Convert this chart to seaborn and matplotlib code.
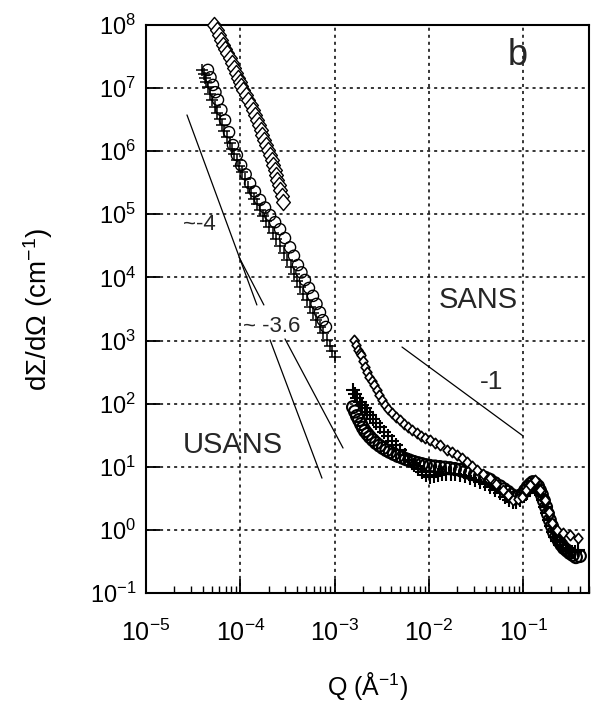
import matplotlib
matplotlib.use("Agg")
import matplotlib.pyplot as plt
from matplotlib import font_manager
from matplotlib.path import Path
from matplotlib.ticker import LogLocator, LogFormatterSciNotation, NullFormatter, NullLocator
import seaborn as sns

# ---------------- data ----------------
# USANS, sample drawn with diamonds
q_usans_dia = [5.26e-5, 5.6e-5, 5.94e-5, 6.25e-5, 6.56e-5, 6.9e-5, 7.23e-5, 7.7e-5,
               8.17e-5, 8.6e-5, 9.0e-5, 9.45e-5, 9.93e-5, 1.03e-4, 1.07e-4, 1.14e-4,
               1.21e-4, 1.29e-4, 1.37e-4, 1.43e-4, 1.50e-4, 1.58e-4, 1.66e-4, 1.72e-4,
               1.78e-4, 1.87e-4, 1.97e-4, 2.07e-4, 2.17e-4, 2.25e-4, 2.33e-4, 2.39e-4,
               2.45e-4, 2.55e-4, 2.64e-4, 2.74e-4, 2.84e-4]
i_usans_dia = [1.0e8, 8.4e7, 6.95e7, 5.8e7, 4.8e7, 4.2e7, 3.6e7, 3.0e7,
               2.5e7, 2.1e7, 1.73e7, 1.47e7, 1.25e7, 1.08e7, 9.3e6, 7.8e6,
               6.5e6, 5.4e6, 4.5e6, 3.7e6, 3.1e6, 2.6e6, 2.17e6, 1.8e6,
               1.5e6, 1.25e6, 1.04e6, 8.7e5, 7.3e5, 6.0e5, 5.0e5, 4.2e5,
               3.5e5, 2.9e5, 2.43e5, 1.95e5, 1.57e5]

# USANS, sample drawn with crosses
q_usans_plus = [3.93e-5, 4.08e-5, 4.23e-5, 4.38e-5, 4.54e-5, 4.77e-5, 5.01e-5, 5.33e-5,
                5.66e-5, 6.02e-5, 6.40e-5, 6.80e-5, 7.23e-5, 7.69e-5, 8.17e-5, 8.68e-5,
                9.23e-5, 9.8e-5, 1.04e-4, 1.12e-4, 1.21e-4, 1.30e-4, 1.40e-4, 1.51e-4,
                1.62e-4, 1.74e-4, 1.87e-4, 2.04e-4, 2.22e-4, 2.42e-4, 2.64e-4, 2.88e-4,
                3.13e-4, 3.41e-4, 3.71e-4, 4.0e-4, 4.30e-4, 4.68e-4, 5.10e-4, 5.49e-4,
                5.90e-4, 6.43e-4, 7.0e-4, 7.6e-4, 8.29e-4, 8.93e-4, 9.5e-4, 1.01e-3]
i_usans_plus = [1.94e7, 1.68e7, 1.45e7, 1.23e7, 1.04e7, 8.2e6, 6.5e6, 5.1e6,
                4.0e6, 3.2e6, 2.6e6, 2.1e6, 1.68e6, 1.35e6, 1.08e6, 8.9e5,
                7.3e5, 5.9e5, 4.7e5, 3.6e5, 2.7e5, 2.2e5, 1.75e5, 1.43e5,
                1.17e5, 9.5e4, 7.8e4, 6.3e4, 5.1e4, 4.0e4, 3.15e4, 2.45e4,
                1.89e4, 1.46e4, 1.13e4, 8.9e3, 7.0e3, 5.5e3, 4.4e3, 3.4e3,
                2.7e3, 2.1e3, 1.64e3, 1.3e3, 1.02e3, 8.19e2, 6.9e2, 5.47e2]

# USANS, sample drawn with circles
q_usans_circ = [4.54e-5, 4.83e-5, 5.13e-5, 5.45e-5, 5.80e-5, 6.3e-5, 6.89e-5, 7.6e-5,
                8.37e-5, 9.2e-5, 1.02e-4, 1.14e-4, 1.27e-4, 1.43e-4, 1.62e-4, 1.83e-4,
                2.07e-4, 2.34e-4, 2.64e-4, 2.98e-4, 3.37e-4, 3.71e-4, 4.09e-4, 4.45e-4,
                4.85e-4, 5.35e-4, 5.90e-4, 6.43e-4, 7.0e-4, 7.5e-4, 8.1e-4]
i_usans_circ = [1.94e7, 1.48e7, 1.12e7, 8.6e6, 6.5e6, 4.5e6, 3.1e6, 2.0e6,
                1.25e6, 8.7e5, 6.0e5, 4.3e5, 3.1e5, 2.3e5, 1.69e5, 1.28e5,
                9.7e4, 7.5e4, 5.8e4, 4.2e4, 3.0e4, 2.2e4, 1.57e4, 1.2e4,
                9.1e3, 6.8e3, 5.1e3, 3.8e3, 2.8e3, 2.1e3, 1.64e3]

# SANS, diamonds
q_sans_dia = [1.61e-3, 1.69e-3, 1.77e-3, 1.84e-3, 1.91e-3, 2.0e-3, 2.10e-3, 2.21e-3,
              2.32e-3, 2.47e-3, 2.62e-3, 2.79e-3, 2.96e-3, 3.18e-3, 3.42e-3, 3.72e-3,
              4.06e-3, 4.48e-3, 4.94e-3, 5.44e-3, 6.0e-3, 6.62e-3, 7.48e-3, 8.24e-3,
              9.1e-3, 1.03e-2, 1.16e-2, 1.31e-2, 1.56e-2, 1.76e-2, 1.99e-2, 2.24e-2,
              2.54e-2, 2.86e-2, 3.24e-2, 3.75e-2, 4.45e-2, 5.15e-2, 6.1e-2, 6.9e-2,
              7.8e-2, 8.8e-2, 9.7e-2, 0.107, 0.118, 0.133, 0.151, 0.170, 0.188,
              0.202, 0.228, 0.264, 0.313, 0.381]
i_sans_dia = [1.02e3, 840, 706, 640, 590, 470, 380, 318,
              264, 228, 197, 162, 137, 113, 95, 82,
              71, 62, 55, 47.5, 42.5, 38.2, 34.2, 30.7,
              28.5, 26.5, 23.8, 22.1, 18.4, 17.1, 15.3, 13.7,
              11.9, 10.3, 8.9, 7.7, 6.6, 5.3, 4.3, 3.6,
              2.97, 3.08, 3.3, 4.3, 5.1, 6.1, 4.3, 2.97, 1.91,
              1.28, 0.99, 0.89, 0.83, 0.74]

# SANS, crosses
q_sans_plus = [1.57e-3, 1.65e-3, 1.73e-3, 1.84e-3, 1.95e-3, 2.08e-3, 2.21e-3, 2.38e-3,
               2.55e-3, 2.78e-3, 3.03e-3, 3.34e-3, 3.68e-3, 4.06e-3, 4.48e-3, 5.0e-3,
               5.58e-3, 6.2e-3, 6.95e-3, 7.65e-3, 8.45e-3, 9.3e-3, 1.03e-2, 1.13e-2,
               1.25e-2, 1.38e-2, 1.52e-2, 1.70e-2, 1.89e-2, 2.14e-2, 2.42e-2, 2.73e-2,
               3.08e-2, 3.48e-2, 3.94e-2, 4.45e-2, 5.02e-2, 5.7e-2, 6.41e-2, 7.1e-2,
               7.8e-2, 8.5e-2, 9.25e-2, 0.101, 0.110, 0.118, 0.127, 0.135, 0.144,
               0.153, 0.162, 0.170, 0.179, 0.188, 0.197, 0.207, 0.217, 0.230,
               0.245, 0.263, 0.284, 0.305, 0.329, 0.355, 0.381]
i_sans_plus = [164, 142, 123, 108, 95, 84, 74, 65,
               57, 49, 42.6, 36, 30.7, 26, 22.1, 18.4,
               15.3, 12.7, 10.6, 9.3, 8.2, 7.5, 6.9, 7.2,
               7.4, 7.6, 7.7, 7.8, 7.7, 7.4, 7.1, 6.7,
               6.2, 5.8, 5.3, 4.8, 4.3, 3.8, 3.3, 3.0,
               2.76, 2.8, 2.97, 3.4, 3.8, 4.4, 4.9, 4.7, 4.3,
               3.6, 2.97, 2.3, 1.85, 1.45, 1.15, 0.93, 0.77, 0.66,
               0.57, 0.52, 0.48, 0.46, 0.44, 0.45, 0.48]

# SANS, circles
q_sans_circ = [1.57e-3, 1.65e-3, 1.73e-3, 1.82e-3, 1.91e-3, 2.0e-3, 2.10e-3, 2.23e-3,
               2.37e-3, 2.55e-3, 2.75e-3, 3.0e-3, 3.26e-3, 3.55e-3, 3.86e-3, 4.25e-3,
               4.70e-3, 5.2e-3, 5.71e-3, 6.3e-3, 6.95e-3, 7.7e-3, 8.45e-3, 9.3e-3,
               1.03e-2, 1.16e-2, 1.31e-2, 1.48e-2, 1.67e-2, 1.89e-2, 2.14e-2, 2.42e-2,
               2.73e-2, 3.08e-2, 3.48e-2, 3.95e-2, 4.45e-2, 5.0e-2, 5.68e-2, 6.3e-2,
               6.9e-2, 7.5e-2, 8.2e-2, 8.9e-2, 9.7e-2, 0.105, 0.112, 0.120, 0.127,
               0.135, 0.144, 0.151, 0.158, 0.166, 0.175, 0.183, 0.192, 0.202,
               0.212, 0.225, 0.240, 0.255, 0.271, 0.292, 0.313, 0.337, 0.363, 0.400]
i_sans_circ = [88, 75, 63.5, 55, 47.5, 41.5, 36.8, 33,
               29.6, 26.5, 23.8, 21.6, 19.8, 18.3, 17.1, 15.9,
               14.8, 14.0, 13.2, 12.5, 11.9, 11.4, 11.0, 10.6,
               10.3, 10.1, 9.9, 9.7, 9.5, 9.2, 8.9, 8.4,
               7.9, 7.5, 7.1, 6.7, 6.2, 5.5, 4.9, 4.4,
               4.0, 3.6, 3.3, 3.4, 3.6, 4.2, 4.8, 5.3, 5.7,
               5.4, 4.9, 4.2, 3.6, 2.9, 2.30, 1.8, 1.43, 1.15,
               0.92, 0.78, 0.665, 0.58, 0.515, 0.47, 0.43, 0.40, 0.37, 0.385]

# power-law guide segments (start, end)
guide_q = [[2.72e-5, 1.50e-4], [9.7e-5, 1.78e-4], [2.07e-4, 7.35e-4],
           [2.98e-4, 1.23e-3], [5.19e-3, 0.1]]
guide_i = [[3.75e6, 3.66e3], [2.1e4, 3.66e3], [1.02e3, 6.6],
           [1.06e3, 19.8], [789, 30.7]]

# ---------------- style ----------------
sns.set_theme(style="ticks")
installed = {f.name for f in font_manager.fontManager.ttflist}
narrow = "Liberation Sans Narrow" if "Liberation Sans Narrow" in installed else "Liberation Sans"
plt.rcParams["font.family"] = [narrow, "DejaVu Sans"]
plt.rcParams["mathtext.fontset"] = "custom"
plt.rcParams["mathtext.rm"] = narrow
plt.rcParams["mathtext.it"] = narrow
plt.rcParams["mathtext.bf"] = narrow
plt.rcParams["mathtext.default"] = "regular"

fig = plt.figure(figsize=(5.94, 7.05), dpi=100)
ax = fig.add_axes([0.2458, 0.1589, 0.7458, 0.8057])
ax.set_facecolor("white")

diamond = Path([(0, 1), (0.85, 0), (0, -1), (-0.85, 0), (0, 1)],
               [Path.MOVETO, Path.LINETO, Path.LINETO, Path.LINETO, Path.CLOSEPOLY])

# USANS
sns.scatterplot(x=q_usans_dia, y=i_usans_dia, ax=ax, marker=diamond, s=135,
                facecolor="white", edgecolor="black", linewidth=1.0, clip_on=False, zorder=3)
sns.scatterplot(x=q_usans_circ, y=i_usans_circ, ax=ax, marker="o", s=65,
                facecolor="none", edgecolor="black", linewidth=1.0, clip_on=False, zorder=3)
sns.scatterplot(x=q_usans_plus, y=i_usans_plus, ax=ax, marker="+", s=85,
                color="black", linewidth=1.1, clip_on=False, zorder=3)

# SANS
sns.scatterplot(x=q_sans_circ, y=i_sans_circ, ax=ax, marker="o", s=75,
                facecolor="none", edgecolor="black", linewidth=1.5, clip_on=False, zorder=3)
sns.scatterplot(x=q_sans_plus, y=i_sans_plus, ax=ax, marker="+", s=90,
                color="black", linewidth=1.5, clip_on=False, zorder=3)
sns.scatterplot(x=q_sans_dia, y=i_sans_dia, ax=ax, marker=diamond, s=55,
                facecolor="white", edgecolor="black", linewidth=1.2, clip_on=False, zorder=3)

# guide lines
for gq, gi in zip(guide_q, guide_i):
    ax.plot(gq, gi, color="black", linewidth=0.9, zorder=2)

ax.set_xscale("log")
ax.set_yscale("log")
ax.set_xlim(1e-5, 0.5)
ax.set_ylim(1e-1, 1e8)

ax.xaxis.set_major_locator(LogLocator(base=10, numticks=20))
ax.xaxis.set_minor_locator(LogLocator(base=10, subs=range(2, 10), numticks=20))
ax.xaxis.set_major_formatter(LogFormatterSciNotation())
ax.xaxis.set_minor_formatter(NullFormatter())
ax.yaxis.set_major_locator(LogLocator(base=10, numticks=20))
ax.yaxis.set_minor_locator(NullLocator())
ax.yaxis.set_major_formatter(LogFormatterSciNotation())

ax.grid(which="major", color="black", linestyle=(0, (2, 2.6)), linewidth=1.1)
ax.tick_params(which="major", direction="in", length=10, width=1.3, color="black",
               top=False, right=False)
ax.tick_params(axis="x", which="minor", direction="in", length=5, width=1.0,
               color="black", top=False)
ax.tick_params(axis="x", which="major", labelsize=18, pad=19, labelcolor="black")
ax.tick_params(axis="y", which="major", labelsize=17, pad=7, labelcolor="black")

for sp in ax.spines.values():
    sp.set_visible(True)
    sp.set_color("black")
    sp.set_linewidth(1.5)

ax.set_xlabel("Q (Å$^{-1}$)", fontsize=18, color="black")
ax.set_ylabel("dΣ/dΩ (cm$^{-1}$)", fontsize=20, color="black",
              fontfamily=["Liberation Sans", "DejaVu Sans"])
ax.xaxis.set_label_coords(0.5, -0.135)
ax.yaxis.set_label_coords(-0.205, 0.5)

# annotations
ax.text(0.840, 0.947, "b", transform=ax.transAxes, fontsize=26, ha="center", va="center")
ax.text(0.120, 0.648, "~-4", transform=ax.transAxes, fontsize=16, ha="center", va="center")
ax.text(0.284, 0.470, "~ -3.6", transform=ax.transAxes, fontsize=16, ha="center", va="center")
ax.text(0.196, 0.261, "USANS", transform=ax.transAxes, fontsize=21, ha="center", va="center")
ax.text(0.749, 0.516, "SANS", transform=ax.transAxes, fontsize=21, ha="center", va="center")
ax.text(0.781, 0.371, "-1", transform=ax.transAxes, fontsize=19, ha="center", va="center")

fig.savefig("out.png", dpi=100, facecolor="white")
